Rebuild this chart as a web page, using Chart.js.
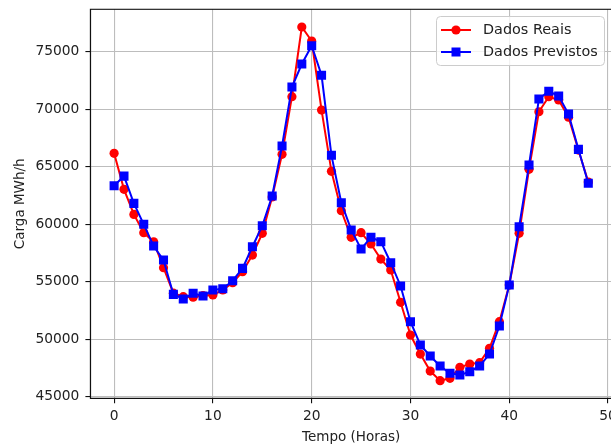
<!DOCTYPE html>
<html>
<head>
<meta charset="utf-8">
<script src="https://cdn.jsdelivr.net/npm/chart.js@4.4.1/dist/chart.umd.min.js"></script>
<style>
  html, body { margin: 0; padding: 0; background: #fff; overflow: hidden; }
  #wrap { width: 611px; height: 446px; overflow: hidden; position: relative; }
  canvas { display: block; }
</style>
</head>
<body>
<div id="wrap"><canvas id="c" width="620" height="446"></canvas></div>
<script>
const hours = [0,1,2,3,4,5,6,7,8,9,10,11,12,13,14,15,16,17,18,19,20,21,22,23,24,25,26,27,28,29,30,31,32,33,34,35,36,37,38,39,40,41,42,43,44,45,46,47,48];
const realData = [66165,63030,60850,59256,58474,56213,54000,53700,53650,53800,53850,54280,54910,55870,57320,59210,62370,66080,71090,77150,75930,69930,64600,61170,58860,59260,58280,56970,56020,53210,50360,48710,47230,46390,46600,47550,47840,47960,49210,51520,54710,59210,64770,69780,71090,70800,69300,66450,63670];
const predData = [63350,64180,61810,59990,58100,56880,53900,53500,53990,53750,54280,54390,55090,56160,58040,59870,62450,66800,71930,73930,75520,72950,65990,61870,59500,57840,58860,58480,56650,54630,51520,49500,48540,47670,47030,46890,47170,47670,48710,51150,54710,59780,65150,70890,71560,71150,69580,66510,63560];
const xTicks = [0,10,20,30,40,50];
const yTicks = [45000,50000,55000,60000,65000,70000,75000];
const seriesLabels = ['Dados Reais','Dados Previstos'];
const xTitle = 'Tempo (Horas)';
const yTitle = 'Carga MWh/h';

const FONT = "'DejaVu Sans', sans-serif";
const TXT = '#222';
const GRID = '#bdbdbd';

const frame = {
  id: 'frame',
  afterDatasetsDraw(chart) {
    const {ctx, chartArea: a} = chart;
    ctx.save();
    ctx.strokeStyle = '#111';
    ctx.lineWidth = 1.1;
    ctx.strokeRect(a.left, a.top, a.right - a.left, a.bottom - a.top);
    // legend
    const bx = 436.5, by = 16.5, bw = 168, bh = 49, r = 4;
    ctx.beginPath();
    ctx.moveTo(bx + r, by);
    ctx.arcTo(bx + bw, by, bx + bw, by + bh, r);
    ctx.arcTo(bx + bw, by + bh, bx, by + bh, r);
    ctx.arcTo(bx, by + bh, bx, by, r);
    ctx.arcTo(bx, by, bx + bw, by, r);
    ctx.closePath();
    ctx.fillStyle = 'rgba(255,255,255,0.8)';
    ctx.fill();
    ctx.strokeStyle = '#cccccc';
    ctx.lineWidth = 1;
    ctx.stroke();
    const rows = [30, 52];
    chart.data.datasets.forEach((ds, i) => {
      const y = rows[i];
      ctx.strokeStyle = ds.borderColor;
      ctx.lineWidth = ds.borderWidth;
      ctx.beginPath();
      ctx.moveTo(441, y);
      ctx.lineTo(471, y);
      ctx.stroke();
      ctx.fillStyle = ds.pointBackgroundColor;
      if (ds.pointStyle === 'rect') {
        ctx.fillRect(456 - 4.5, y - 4.5, 9, 9);
      } else {
        ctx.beginPath();
        ctx.arc(456, y, 4.6, 0, Math.PI * 2);
        ctx.fill();
      }
      ctx.fillStyle = TXT;
      ctx.font = '14.4px ' + FONT;
      ctx.textBaseline = 'middle';
      ctx.textAlign = 'left';
      ctx.fillText(ds.label, 483, y + 0.5);
    });
    ctx.restore();
  }
};

new Chart(document.getElementById('c'), {
  type: 'line',
  data: {
    datasets: [
      {
        label: seriesLabels[0],
        data: hours.map((h, i) => ({x: h, y: realData[i]})),
        borderColor: '#ff0000',
        backgroundColor: '#ff0000',
        pointBackgroundColor: '#ff0000',
        pointBorderColor: '#ff0000',
        borderWidth: 2,
        pointStyle: 'circle',
        pointRadius: 4.6,
        pointBorderWidth: 0,
        tension: 0,
        order: 2
      },
      {
        label: seriesLabels[1],
        data: hours.map((h, i) => ({x: h, y: predData[i]})),
        borderColor: '#0000ff',
        backgroundColor: '#0000ff',
        pointBackgroundColor: '#0000ff',
        pointBorderColor: '#0000ff',
        borderWidth: 2,
        pointStyle: 'rect',
        pointRadius: 6.4,
        pointBorderWidth: 0,
        tension: 0,
        order: 1
      }
    ]
  },
  options: {
    responsive: false,
    animation: false,
    devicePixelRatio: 1,
    layout: { padding: { left: 0, top: 9.3, right: 8, bottom: 0 } },
    plugins: { legend: { display: false }, tooltip: { enabled: false } },
    elements: { line: { fill: false } },
    scales: {
      x: {
        type: 'linear',
        min: -2.4,
        max: 50.4,
        afterFit(s) { s.height = 47.7; s.paddingLeft = 0; s.paddingRight = 0; s.paddingTop = 0; s.paddingBottom = 0; },
        afterBuildTicks(s) { s.ticks = xTicks.map(v => ({value: v})); },
        grid: { color: GRID, lineWidth: 1.1, tickColor: '#111', tickLength: 5, drawTicks: true },
        border: { color: '#111', width: 1.1 },
        ticks: { color: TXT, font: { family: FONT, size: 13.8 }, padding: 5, maxRotation: 0, autoSkip: false },
        title: { display: true, text: xTitle, color: TXT, font: { family: FONT, size: 13.5 }, padding: { top: 0, bottom: 0 } }
      },
      y: {
        min: 44860,
        max: 78690,
        afterFit(s) { s.width = 90.4; s.paddingLeft = 0; s.paddingRight = 0; s.paddingTop = 0; s.paddingBottom = 0; },
        afterBuildTicks(s) { s.ticks = yTicks.map(v => ({value: v})); },
        grid: { color: GRID, lineWidth: 1.1, tickColor: '#111', tickLength: 5, drawTicks: true },
        border: { color: '#111', width: 1.1 },
        ticks: { color: TXT, font: { family: FONT, size: 13.8 }, padding: 6, autoSkip: false, callback: v => String(v) },
        title: { display: true, text: yTitle, color: TXT, font: { family: FONT, size: 13.5 }, padding: { top: 12, bottom: 0 } }
      }
    }
  },
  plugins: [frame]
});
</script>
</body>
</html>
